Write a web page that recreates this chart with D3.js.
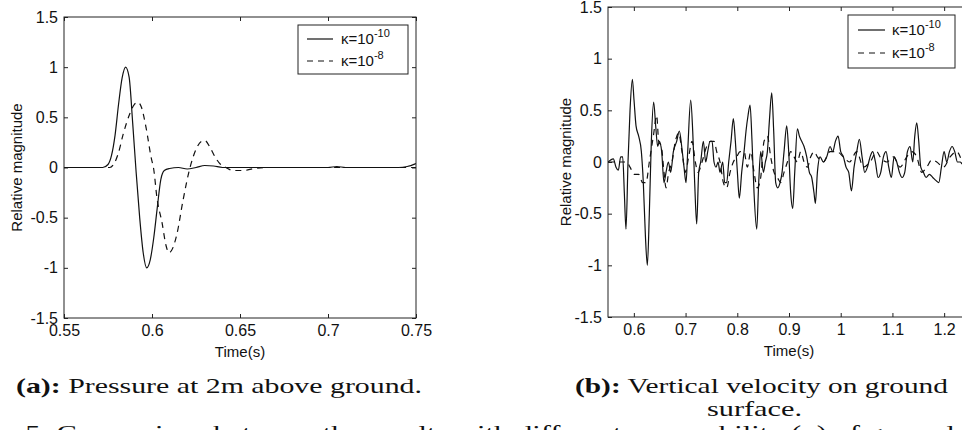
<!DOCTYPE html>
<html>
<head>
<meta charset="utf-8">
<script src="https://cdn.jsdelivr.net/npm/d3@7"></script>
<style>
  body { margin: 0; background: #fff; }
  .frame { fill: none; stroke: #222; stroke-width: 1; }
  .trace { fill: none; stroke: #111; stroke-width: 1.2; }
  .dashed { stroke-dasharray: 6, 5; }
  .axis line { stroke: #222; }
  .axis path { display: none; }
</style>
</head>
<body>
<svg id="fig" width="962" height="430"></svg>
<script>
// ---- panel (a): pressure 2m above ground
var presTicksX = [0.55, 0.6, 0.65, 0.7, 0.75];
var presTicksY = [-1.5, -1, -0.5, 0, 0.5, 1, 1.5];

var presT10 = [0.550, 0.572, 0.575, 0.577, 0.579, 0.581, 0.583, 0.585, 0.587, 0.589, 0.591, 0.593, 0.595, 0.597,
  0.599, 0.601, 0.603, 0.605, 0.607, 0.610, 0.615, 0.620, 0.625, 0.630, 0.635, 0.640, 0.700, 0.705, 0.710,
  0.740, 0.745, 0.750];
var presV10 = [0, 0, 0.03, 0.12, 0.32, 0.63, 0.89, 1.0, 0.9, 0.45, -0.05, -0.5, -0.85, -1.0,
  -0.92, -0.7, -0.4, -0.12, -0.03, -0.01, 0, -0.015, 0, 0.02, 0.015, 0, 0, 0.01, 0,
  0, 0.01, 0.04];

var presT8 = [0.550, 0.576, 0.5785, 0.581, 0.5836, 0.5875, 0.590, 0.592, 0.594, 0.5966, 0.5995, 0.601, 0.6028,
  0.6057, 0.608, 0.6096, 0.611, 0.6142, 0.6176, 0.6216, 0.625, 0.628, 0.630, 0.633, 0.636, 0.639, 0.642,
  0.646, 0.652, 0.658, 0.665, 0.750];
var presV8 = [0, 0, 0.04, 0.15, 0.33, 0.54, 0.63, 0.65, 0.6, 0.4, 0.1, -0.02, -0.3,
  -0.55, -0.78, -0.85, -0.83, -0.66, -0.33, 0, 0.18, 0.26, 0.27, 0.2, 0.1, 0.03, 0,
  -0.03, -0.03, -0.01, 0, 0];

// ---- panel (b): vertical velocity on ground surface
var velTicksX = [0.6, 0.7, 0.8, 0.9, 1, 1.1, 1.2];
var velTicksY = [-1.5, -1, -0.5, 0, 0.5, 1, 1.5];

var velT10 = [0.550, 0.5552, 0.5603, 0.5655, 0.5700, 0.5745, 0.5784, 0.5816, 0.5848, 0.5887, 0.5926, 0.5971,
  0.6003, 0.6042, 0.6093, 0.6145, 0.6183, 0.6222, 0.6261, 0.6299, 0.6338, 0.6383, 0.6422, 0.6461, 0.6493,
  0.6538, 0.6583, 0.6622, 0.6667, 0.6712, 0.6764, 0.6828, 0.6880, 0.6925, 0.6970, 0.7009, 0.7041, 0.7099,
  0.7138, 0.7176, 0.7215, 0.7254, 0.7292, 0.7344, 0.7389, 0.7428, 0.7473, 0.7512, 0.7550, 0.7589, 0.7628,
  0.7666, 0.7718, 0.7757, 0.7795, 0.7834, 0.7879, 0.7924, 0.7963, 0.8002, 0.8040, 0.8085, 0.8131, 0.8169,
  0.8208, 0.8247, 0.8285, 0.8324, 0.8376, 0.8414, 0.8453, 0.8505, 0.8543, 0.8582, 0.8621, 0.8666, 0.8704,
  0.8743, 0.8782, 0.8827, 0.8866, 0.8904, 0.8956, 0.8994, 0.9033, 0.9072, 0.9111, 0.9162, 0.9201, 0.9246,
  0.9291, 0.9343, 0.9394, 0.9439, 0.9484, 0.9510, 0.9549, 0.9601, 0.9665, 0.9730, 0.9794, 0.9846, 0.9897,
  0.9949, 1.0000, 1.0052, 1.0103, 1.0155, 1.0207, 1.0258, 1.0310, 1.0361, 1.0413, 1.0465, 1.0516, 1.0568,
  1.0619, 1.0671, 1.0722, 1.0774, 1.0826, 1.0877, 1.0929, 1.0980, 1.1032, 1.1084, 1.1135, 1.1187, 1.1238,
  1.1290, 1.1341, 1.1393, 1.1432, 1.1470, 1.1509, 1.1548, 1.1599, 1.1651, 1.1715, 1.1780, 1.1844, 1.1896,
  1.1947, 1.1999, 1.2051, 1.2102, 1.2154, 1.2205, 1.2257, 1.2309, 1.2347];
var velV10 = [0, 0.02, 0.03, -0.05, -0.08, 0.05, 0.05, -0.3, -0.65, 0, 0.5, 0.8,
  0.6, 0.35, 0.25, 0.1, -0.2, -0.7, -1.0, -0.5, 0.2, 0.58, 0.35, 0.15, 0.2,
  0.1, -0.2, -0.1, 0, -0.1, 0.1, 0.2, 0.3, 0.15, -0.05, -0.2, 0.1, 0.6,
  0.3, -0.2, -0.6, -0.1, 0, 0.2, 0, 0.1, 0.2, 0.2, 0, -0.05, 0,
  -0.1, 0, -0.2, -0.2, 0, 0.2, 0.42, 0.2, -0.1, -0.35, -0.1, 0.1, 0.3,
  0.45, 0.55, 0.2, -0.3, -0.65, -0.2, 0.1, -0.1, 0, 0.1, 0.4, 0.67, 0.3,
  -0.2, -0.25, -0.2, -0.1, 0.1, 0.35, 0.1, -0.3, -0.45, -0.1, 0.32, 0.25, 0.2,
  0.15, 0.05, -0.1, -0.15, -0.3, -0.4, -0.1, 0.05, 0, 0.05, 0.15, 0.1, 0.2,
  0.25, 0.1, 0.05, -0.05, -0.1, -0.28, -0.05, 0.1, 0.22, 0.05, -0.1, -0.05, 0.05,
  0.1, 0, -0.15, -0.1, 0.05, 0.1, -0.05, -0.15, 0.05, 0, -0.1, -0.15, -0.1,
  0.1, 0.15, 0, 0.25, 0.38, 0.2, -0.05, -0.1, -0.15, -0.12, -0.15, -0.18, -0.2,
  -0.05, 0.1, 0, 0.1, 0.15, 0.1, 0, 0, -0.02];

var velT8 = [0.550, 0.5861, 0.5926, 0.6003, 0.6093, 0.6171, 0.6235, 0.6299, 0.6377, 0.6441, 0.6480, 0.6532,
  0.6583, 0.6622, 0.6673, 0.6738, 0.6802, 0.6867, 0.6931, 0.6996, 0.7060, 0.7125, 0.7189, 0.7241, 0.7318,
  0.7408, 0.7486, 0.7550, 0.7602, 0.7666, 0.7731, 0.7795, 0.7860, 0.7924, 0.7989, 0.8053, 0.8131, 0.8195,
  0.8260, 0.8324, 0.8388, 0.8453, 0.8517, 0.8582, 0.8646, 0.8711, 0.8775, 0.8840, 0.8904, 0.8969, 0.9033,
  0.9098, 0.9162, 0.9227, 0.9291, 0.9356, 0.9420, 0.9484, 0.9549, 0.9665, 0.9794, 0.9923, 1.0052, 1.0168,
  1.0310, 1.0439, 1.0568, 1.0697, 1.0761, 1.0890, 1.1019, 1.1148, 1.1277, 1.1374, 1.1470, 1.1567, 1.1664,
  1.1761, 1.1857, 1.1986, 1.2115, 1.2244, 1.2347];
var velV8 = [0, 0, -0.05, -0.12, -0.12, -0.2, -0.2, 0, 0.25, 0.45, 0.2, 0.15,
  -0.1, -0.25, -0.1, 0, 0.2, 0.28, 0.1, -0.1, 0.05, 0.2, 0, -0.1, 0,
  0.15, 0.2, 0.2, 0.1, 0, -0.2, -0.25, -0.1, 0, 0.05, 0.1, 0.1, -0.05,
  0.1, -0.1, -0.25, -0.15, 0.2, 0.25, 0.05, -0.1, -0.15, -0.2, -0.1, 0, 0.1,
  0.05, 0, 0.1, 0, -0.05, 0.05, 0.1, 0.05, 0, 0.1, 0.1, 0.05, 0,
  0.1, -0.05, 0, 0.1, 0.05, 0, 0.05, -0.05, 0.05, 0.1, 0.05, -0.1, -0.05,
  0.02, 0, -0.05, 0.05, 0.1, 0];

var legendNames = ['-10', '-8'];

var sans = '"Liberation Sans", Arial, sans-serif';
var serif = '"Liberation Serif", "Times New Roman", serif';

var svg = d3.select('#fig');

function zip(ts, vs) {
  return ts.map(function(t, i) { return [t, vs[i]]; });
}

function drawPanel(p) {
  var x = d3.scaleLinear().domain(p.xDomain).range([p.left, p.right]);
  var y = d3.scaleLinear().domain([-1.5, 1.5]).range([p.bottom, p.top]);
  var g = svg.append('g');

  var clipId = 'clip' + p.id;
  g.append('clipPath').attr('id', clipId)
    .append('rect')
    .attr('x', p.left).attr('y', p.top)
    .attr('width', p.right - p.left).attr('height', p.bottom - p.top);

  // ticks on all four sides, pointing inward
  g.append('g').attr('class', 'axis')
    .attr('transform', 'translate(0,' + p.bottom + ')')
    .call(d3.axisBottom(x).tickValues(p.xTicks).tickSize(-4).tickPadding(7).tickFormat(String))
    .attr('font-family', sans).attr('font-size', 16)
    .selectAll('text').attr('fill', '#111');
  g.append('g').attr('class', 'axis')
    .attr('transform', 'translate(0,' + p.top + ')')
    .call(d3.axisTop(x).tickValues(p.xTicks).tickSize(-4).tickFormat(''));
  g.append('g').attr('class', 'axis')
    .attr('transform', 'translate(' + p.left + ',0)')
    .call(d3.axisLeft(y).tickValues(p.yTicks).tickSize(-4).tickPadding(6).tickFormat(String))
    .attr('font-family', sans).attr('font-size', 16)
    .selectAll('text').attr('fill', '#111');
  g.append('g').attr('class', 'axis')
    .attr('transform', 'translate(' + p.right + ',0)')
    .call(d3.axisRight(y).tickValues(p.yTicks).tickSize(-4).tickFormat(''));

  var line = d3.line()
    .x(function(d) { return x(d[0]); })
    .y(function(d) { return y(d[1]); })
    .curve(d3.curveMonotoneX);

  var plot = g.append('g').attr('clip-path', 'url(#' + clipId + ')');
  plot.append('path').datum(zip(p.t8, p.v8))
    .attr('class', 'trace dashed').attr('d', line);
  plot.append('path').datum(zip(p.t10, p.v10))
    .attr('class', 'trace').attr('d', line);

  g.append('rect').attr('class', 'frame')
    .attr('x', p.left).attr('y', p.top)
    .attr('width', p.right - p.left).attr('height', p.bottom - p.top);

  g.append('text')
    .attr('x', (p.left + p.right) / 2).attr('y', p.bottom + 39)
    .attr('text-anchor', 'middle')
    .attr('font-family', sans).attr('font-size', 15).attr('fill', '#111')
    .text('Time(s)');

  g.append('text')
    .attr('transform', 'translate(' + p.ylabX + ',' + y(0) + ') rotate(-90)')
    .attr('text-anchor', 'middle')
    .attr('font-family', sans).attr('font-size', 15).attr('fill', '#111')
    .text('Relative magnitude');

  // legend
  var L = p.legend;
  g.append('rect').attr('class', 'frame').style('fill', '#fff')
    .attr('x', L.x).attr('y', L.y).attr('width', L.w).attr('height', L.h);
  var rows = g.selectAll('g.leg').data(legendNames).enter().append('g')
    .attr('class', 'leg')
    .attr('transform', function(d, i) { return 'translate(' + L.x + ',' + (L.y + L.rowY[i]) + ')'; });
  rows.append('line')
    .attr('class', function(d, i) { return i === 0 ? 'trace' : 'trace dashed'; })
    .attr('x1', L.lineX[0]).attr('x2', L.lineX[1]).attr('y1', 0).attr('y2', 0);
  var lt = rows.append('text')
    .attr('x', L.textX).attr('y', 5)
    .attr('font-family', sans).attr('font-size', 15).attr('fill', '#111');
  lt.append('tspan').text('\u03ba=10');
  lt.append('tspan').attr('dy', -7).attr('font-size', 11).text(function(d) { return d; });
}

drawPanel({
  id: 'a', left: 64, right: 416, top: 17, bottom: 318,
  xDomain: [0.55, 0.75], xTicks: presTicksX, yTicks: presTicksY,
  t10: presT10, v10: presV10, t8: presT8, v8: presV8, ylabX: 22,
  legend: { x: 298, y: 25, w: 110, h: 49, rowY: [14, 36], lineX: [9, 35], textX: 43 }
});

drawPanel({
  id: 'b', left: 608, right: 970, top: 7, bottom: 317,
  xDomain: [0.55, 1.25], xTicks: velTicksX, yTicks: velTicksY,
  t10: velT10, v10: velV10, t8: velT8, v8: velV8, ylabX: 571,
  legend: { x: 848, y: 15, w: 107, h: 53, rowY: [15, 38], lineX: [10, 37], textX: 44 }
});

// captions
function caption(xp, yp, width, bold, rest) {
  var t = svg.append('text')
    .attr('x', xp).attr('y', yp)
    .attr('font-family', serif).attr('font-size', 21).attr('fill', '#111')
    .attr('textLength', width).attr('lengthAdjust', 'spacingAndGlyphs');
  if (bold) t.append('tspan').attr('font-weight', 'bold').text(bold);
  t.append('tspan').text(rest);
}

caption(16, 393, 406, '(a):', ' Pressure at 2m above ground.');
caption(575, 393, 373, '(b):', ' Vertical velocity on ground');
caption(707, 416, 95, null, 'surface.');

// figure caption, cut off by the bottom edge of the picture
caption(4, 440, 950, null, 'e 5: Comparison between the results with different permeability (\u03ba) of ground');
</script>
</body>
</html>
